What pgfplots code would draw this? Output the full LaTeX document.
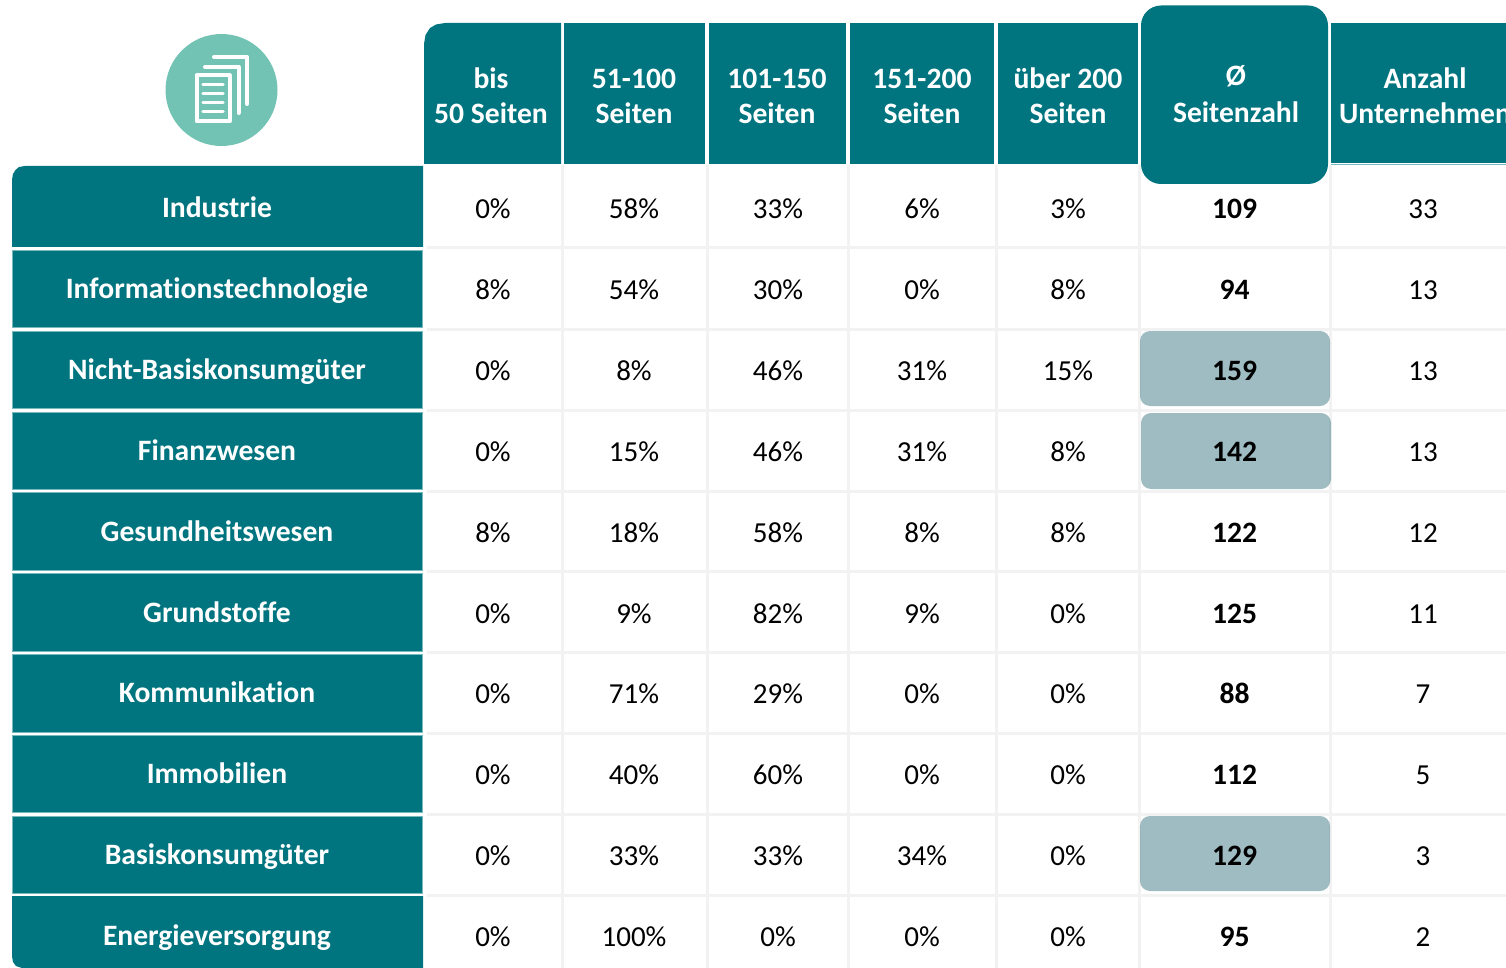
\documentclass[border=0pt]{standalone}
\usepackage{fontspec}
\setmainfont[Ligatures=NoCommon]{Carlito}
\usepackage{pgfplots}
\usepackage{pgfplotstable}
\pgfplotsset{compat=1.18}
\definecolor{teal1}{RGB}{0,117,127}
\definecolor{edge1}{RGB}{120,185,190}
\definecolor{grid1}{RGB}{242,242,242}
\definecolor{circ1}{RGB}{115,195,180}
\definecolor{over1}{RGB}{24,95,110}
% base = text baseline in picture pixels, y axis runs downwards
\pgfplotstableread{
base label a b c d e mean n
218.5 Industrie 0 58 33 6 3 109 33
299 Informationstechnologie 8 54 30 0 8 94 13
380 Nicht-Basiskonsumgüter 0 8 46 31 15 159 13
461 Finanzwesen 0 15 46 31 8 142 13
542 Gesundheitswesen 8 18 58 8 8 122 12
623 Grundstoffe 0 9 82 9 0 125 11
703 Kommunikation 0 71 29 0 0 88 7
784 Immobilien 0 40 60 0 0 112 5
865 Basiskonsumgüter 0 33 33 34 0 129 3
946 Energieversorgung 0 100 0 0 0 95 2
}\tbl
\pgfplotstableread{
x base label
491 89 bis
491 124 {50 Seiten}
634 89 51-100
634 124 Seiten
777 89 101-150
777 124 Seiten
922 89 151-200
922 124 Seiten
1068 89 {über 200}
1068 124 Seiten
1236 86 Ø
1236 123 Seitenzahl
1425 89 Anzahl
1425 124 Unternehmen
}\headtbl
\newcommand{\card}[6]{\addplot[fill=#1,draw=none,rounded corners=#6pt] coordinates {(#2,#3)(#4,#3)(#4,#5)(#2,#5)} --cycle;}
\newcommand{\rowbox}[2]{\addplot[fill=teal1,draw=edge1,line width=.7pt] coordinates {(12.5,#1)(422.5,#1)(422.5,#2)(12.5,#2)} --cycle;}
\newcommand{\gridv}[1]{\addplot[grid1,line width=3pt] coordinates {(#1,165)(#1,968)};}
\newcommand{\gridh}[1]{\addplot[grid1,line width=3pt] coordinates {(427,#1)(1506,#1)};}
\pgfplotsset{
  cell/.style={draw=none,mark=none,point meta=explicit symbolic,nodes near coords={\pgfplotspointmeta\%},
    nodes near coords style={anchor=base,inner sep=0pt,text=black,font=\fontsize{29}{33}\selectfont}},
  plain/.style={draw=none,mark=none,point meta=explicit symbolic,nodes near coords={\pgfplotspointmeta},
    nodes near coords style={anchor=base,inner sep=0pt,text=black,font=\fontsize{29}{33}\selectfont}},
  strong/.style={draw=none,mark=none,point meta=explicit symbolic,nodes near coords={\pgfplotspointmeta},
    nodes near coords style={anchor=base,inner sep=0pt,text=#1,font=\fontsize{29.6}{33}\selectfont\bfseries}},
}
\begin{document}
\begin{tikzpicture}
\path[use as bounding box] (0,0) rectangle (1506pt,968pt);
\begin{axis}[at={(0,0)},anchor=south west,scale only axis,width=1506pt,height=968pt,
  xmin=0,xmax=1506,ymin=0,ymax=968,y dir=reverse,hide axis,clip=false]
% grid
\gridv{562}\gridv{707}\gridv{848}\gridv{996}\gridv{1139}\gridv{1330}
\gridh{248}\gridh{329}\gridh{410}\gridh{491}\gridh{571}\gridh{652}\gridh{733}\gridh{814}\gridh{895}
% headers
\addplot[fill=teal1,draw=none] coordinates {(424,44)(425.5,35)(430,28)(436,24.5)(445,23)(561,23)(561,164)(424,164)} --cycle;
\card{teal1}{564}{23}{705}{164}{0}
\card{teal1}{709}{23}{846}{164}{0}
\card{teal1}{850}{23}{994}{164}{0}
\card{teal1}{998}{23}{1138}{164}{0}
\card{teal1}{1331}{23}{1506}{163}{0}
\addplot[edge1,line width=1pt] coordinates {(1331,165)(1506,165)};
\card{teal1}{1141}{5.5}{1328}{184}{20}
% row labels
\addplot[fill=teal1,draw=none] coordinates {(12,180)(13,174)(15.5,170)(19,167)(25,166)(423,166)(423,247)(12,247)} --cycle;
\rowbox{250}{327}\rowbox{331}{408}\rowbox{412}{489}\rowbox{492}{570}
\rowbox{573}{651}\rowbox{654}{732}\rowbox{735}{812}\rowbox{816}{893}
\addplot[fill=teal1,draw=none] coordinates {(12,896)(423,896)(423,968)(22,968)(16,966)(13,962)(12,956)} --cycle;
% icon
\card{circ1}{165.5}{34}{277.5}{146}{56}
\addplot[white,line width=4pt,line cap=round,line join=round] coordinates {(214,57)(247,57)(247,104)};
\addplot[white,line width=4pt,line cap=round,line join=round] coordinates {(205,67)(238.5,67)(238.5,113)};
\addplot[white,line width=4pt,line join=round] coordinates {(196.5,75.5)(229.5,75.5)(229.5,121.5)(196.5,121.5)} --cycle;
\addplot[white,line width=3.5pt,line cap=round] coordinates {(203,84.7)(223,84.7)};
\addplot[white,line width=3.5pt,line cap=round] coordinates {(203,93.7)(223,93.7)};
\addplot[white,line width=3.5pt,line cap=round] coordinates {(203,102.7)(223,102.7)};
\addplot[white,line width=3.5pt,line cap=round] coordinates {(203,111.7)(223,111.7)};
% text
\addplot[strong=white] table[x=x,y=base,meta=label] {\headtbl};
\addplot[strong=white] table[x expr=217,y expr=\thisrow{base}-1,meta=label] {\tbl};
\addplot[cell] table[x expr=493,y=base,meta=a] {\tbl};
\addplot[cell] table[x expr=634,y=base,meta=b] {\tbl};
\addplot[cell] table[x expr=778,y=base,meta=c] {\tbl};
\addplot[cell] table[x expr=922,y=base,meta=d] {\tbl};
\addplot[cell] table[x expr=1068,y=base,meta=e] {\tbl};
\addplot[strong=black] table[x expr=1234.5,y=base,meta=mean] {\tbl};
\addplot[plain] table[x expr=1423,y=base,meta=n] {\tbl};
% highlights lie over the numbers, as in the source
\addplot[fill=over1,fill opacity=.42,draw=none,rounded corners=10pt] coordinates {(1140,331)(1330,331)(1330,406)(1140,406)} --cycle;
\addplot[fill=over1,fill opacity=.42,draw=none,rounded corners=10pt] coordinates {(1141,413)(1331,413)(1331,489)(1141,489)} --cycle;
\addplot[fill=over1,fill opacity=.42,draw=none,rounded corners=10pt] coordinates {(1140,816)(1330,816)(1330,891)(1140,891)} --cycle;
\end{axis}
\end{tikzpicture}
\end{document}
